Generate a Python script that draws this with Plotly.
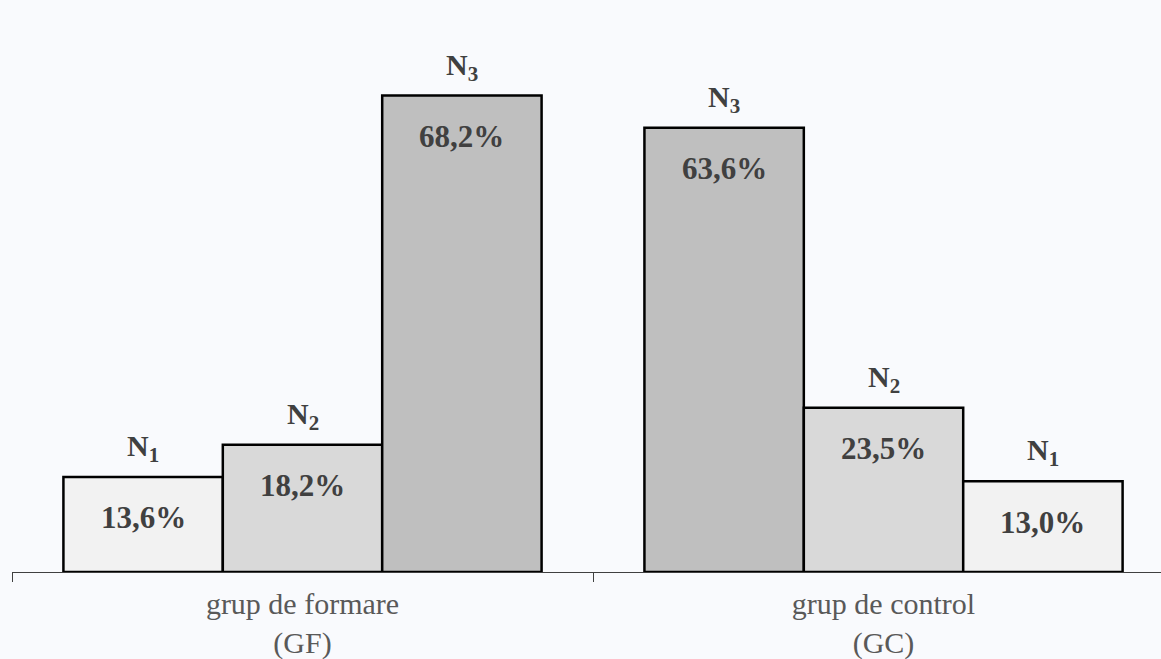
import plotly.graph_objects as go

# Level distribution per group (percent)
categories = ["grup de formare<br>(GF)", "grup de control<br>(GC)"]
gf_levels = ["1", "2", "3"]
gf_values = [13.6, 18.2, 68.2]
gc_levels = ["3", "2", "1"]
gc_values = [63.6, 23.5, 13.0]

level_colors = {"1": "#f2f2f2", "2": "#d9d9d9", "3": "#bfbfbf"}

BG = "#f9fafd"
FONT = "Liberation Serif, Times New Roman, serif"
BARGAP = 0.177
n_slots = 3
slot_w = (1 - BARGAP) / n_slots

def pct(v):
    return f"{v:.1f}".replace(".", ",") + "%"

fig = go.Figure()
annotations = []
for slot in range(n_slots):
    levels = [gf_levels[slot], gc_levels[slot]]
    values = [gf_values[slot], gc_values[slot]]
    fig.add_trace(go.Bar(
        x=categories,
        y=values,
        marker=dict(color=[level_colors[l] for l in levels],
                    line=dict(color="#000000", width=2.5)),
        hoverinfo="skip",
        showlegend=False,
    ))
    for ci, (lvl, val) in enumerate(zip(levels, values)):
        xpos = ci + (slot - (n_slots - 1) / 2) * slot_w
        # value inside the bar, near its top
        annotations.append(dict(
            x=xpos, y=val, xref="x", yref="y",
            text=pct(val), showarrow=False,
            yanchor="middle", yshift=-41,
            font=dict(family=FONT, size=31, color="#404040", weight="bold"),
        ))
        # level name above the bar
        annotations.append(dict(
            x=xpos, y=val, xref="x", yref="y",
            text=f"N<sub>{lvl}</sub>", showarrow=False,
            yanchor="bottom", yshift=8,
            font=dict(family=FONT, size=30, color="#404040", weight="bold"),
        ))

fig.update_layout(
    barmode="group",
    bargap=BARGAP,
    bargroupgap=0,
    width=1161, height=659,
    margin=dict(l=12, r=0, t=48, b=87),
    paper_bgcolor=BG,
    plot_bgcolor=BG,
    annotations=annotations,
    xaxis=dict(
        type="category",
        range=[-0.5, 1.4776],
        tickson="boundaries",
        ticks="outside", ticklen=9, tickwidth=1, tickcolor="#404040",
        ticklabelstandoff=5,
        automargin=False,
        showline=True, linecolor="#404040", linewidth=1,
        showgrid=False,
        tickfont=dict(family=FONT, size=30, color="#595959"),
    ),
    yaxis=dict(range=[0, 75], visible=False, showgrid=False, zeroline=False,
               automargin=False),
)

fig.write_html("out.html")
